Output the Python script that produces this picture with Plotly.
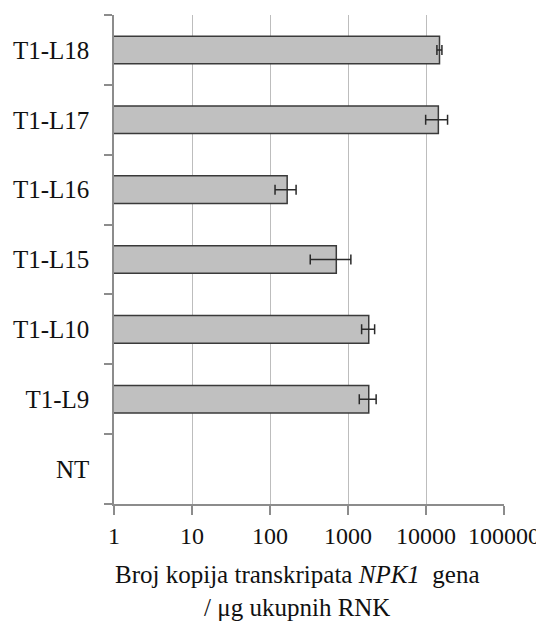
import plotly.graph_objects as go

categories = ["NT", "T1-L9", "T1-L10", "T1-L15", "T1-L16", "T1-L17", "T1-L18"]
values = [None, 1845, 1845, 708, 166, 14400, 14900]
errors = [None, 450, 350, 380, 50, 4500, 1100]
x_tick_vals = [1, 10, 100, 1000, 10000, 100000]
x_tick_text = ["1", "10", "100", "1000", "10000", "100000"]
title_text = "Broj kopija transkripata <i>NPK1</i>  gena<br>/ μg ukupnih RNK"

FONT = "Liberation Serif"

fig = go.Figure()
fig.add_trace(go.Bar(
    y=categories,
    x=values,
    orientation="h",
    marker=dict(color="#c0c0c0", line=dict(color="#3a3a3a", width=1.5)),
    error_x=dict(type="data", array=errors, symmetric=True,
                 color="#2a2a2a", thickness=1.5, width=5),
    width=0.395,
    showlegend=False,
))

# page body adds an 8px offset; figure sized to fit the window
fig.update_layout(
    width=536, height=615,
    margin=dict(l=106, r=40, t=7, b=119, autoexpand=False),
    paper_bgcolor="white", plot_bgcolor="white",
    font=dict(family=FONT, size=24, color="#111111"),
    bargap=0.6,
)

fig.update_xaxes(
    type="log", range=[0, 5],
    tickvals=x_tick_vals, ticktext=x_tick_text,
    showgrid=True, gridcolor="#bdbdbd", gridwidth=1,
    showline=True, linecolor="#8c8c8c", linewidth=1.5,
    ticks="outside", ticklen=9, tickcolor="#8c8c8c", tickwidth=1.5,
    tickfont=dict(family=FONT, size=24, color="#111111"),
    zeroline=False, automargin=False,
)
fig.update_yaxes(
    type="category", categoryorder="array", categoryarray=categories,
    showgrid=False,
    showline=True, linecolor="#8c8c8c", linewidth=1.5,
    ticks="outside", ticklen=8, tickcolor="#8c8c8c", tickwidth=1.5,
    tickson="boundaries",
    ticklabelstandoff=18,
    tickfont=dict(family=FONT, size=25, color="#111111"),
    automargin=False,
)

fig.add_annotation(
    xref="paper", yref="paper",
    x=0.471, y=-0.1778,
    xanchor="center", yanchor="middle",
    text=title_text, showarrow=False, align="center",
    font=dict(family=FONT, size=25, color="#111111"),
)

fig.write_html("out.html")
